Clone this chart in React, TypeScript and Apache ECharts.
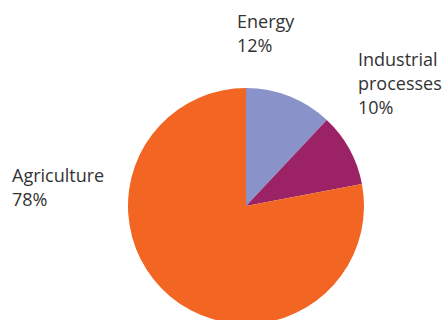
import React, { useEffect, useRef } from "react";
import * as echarts from "echarts";

const categories = ["Energy", "Industrial processes", "Agriculture"];
const values = [12, 10, 78];
const colors = ["#8a93c9", "#9b2264", "#f26522"];

const labelAnchors = [
  { x: 237, y: 9 },
  { x: 358, y: 47 },
  { x: 12, y: 163 },
];

export default function App() {
  const ref = useRef<HTMLDivElement>(null);
  useEffect(() => {
    if (!ref.current) return;
    const chart = echarts.init(ref.current, null, { renderer: "svg" });
    chart.setOption({
      animation: false,
      backgroundColor: "#ffffff",
      series: [
        {
          type: "pie",
          center: [246, 206],
          radius: 118,
          startAngle: 90,
          clockwise: true,
          silent: true,
          avoidLabelOverlap: false,
          data: categories.map((name, i) => ({
            name,
            value: values[i],
            itemStyle: { color: colors[i] },
          })),
          label: {
            show: true,
            position: "outside",
            overflow: "none",
            formatter: (p: any) => `${String(p.name).replace(" ", "\n")}\n${Math.round(p.percent)}%`,
            fontFamily: "Open Sans",
            fontSize: 18,
            lineHeight: 24,
            color: "#333333",
          },
          labelLine: { show: false },
          labelLayout: (params: any) => {
            const a = labelAnchors[params.dataIndex];
            return { x: a.x, y: a.y, align: "left", verticalAlign: "top", hideOverlap: false };
          },
        },
      ],
    });
    return () => chart.dispose();
  }, []);
  return (
    <div
      ref={ref}
      style={{ position: "fixed", left: 0, top: 0, width: 448, height: 320 }}
    />
  );
}
